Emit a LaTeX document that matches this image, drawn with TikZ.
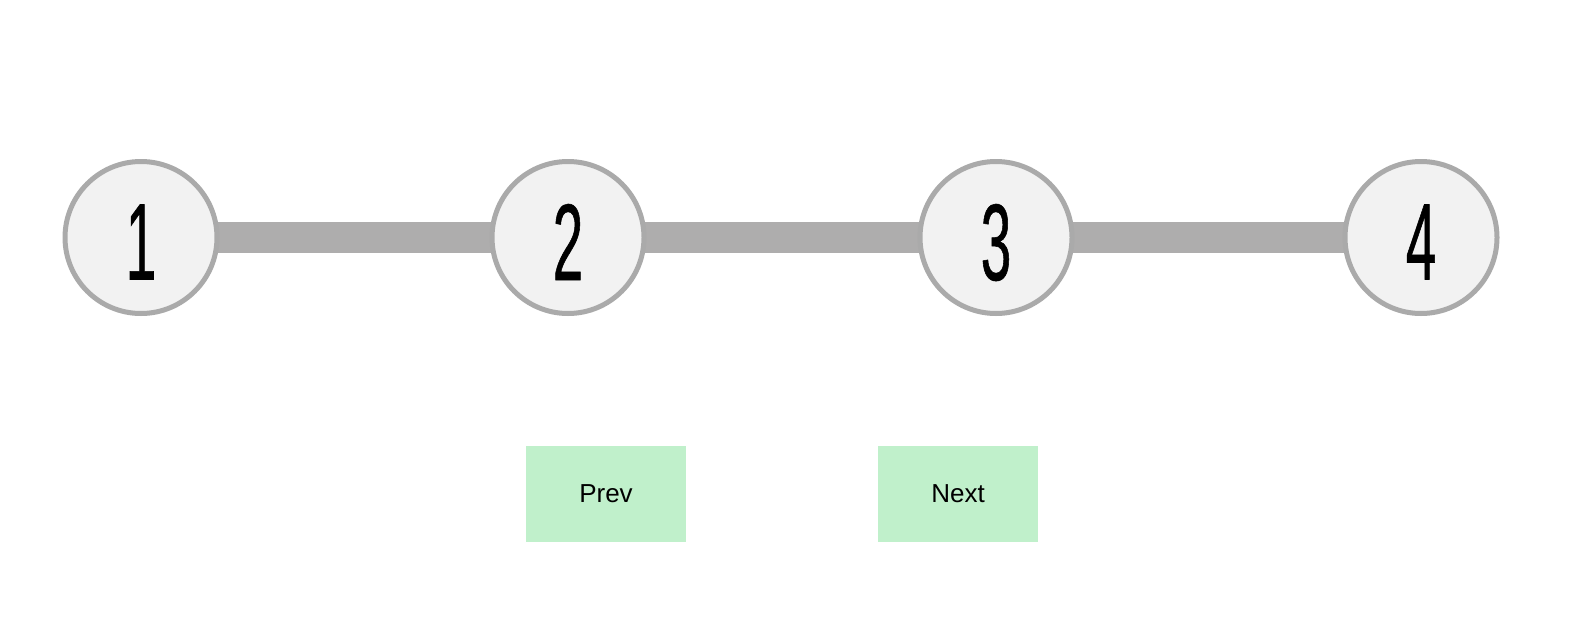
\documentclass[tikz,border=0pt]{standalone}
\usepackage{fontspec}
\setmainfont{Liberation Sans}
\newfontfamily\digitfont[FakeStretch=0.5,FakeBold=0.5]{Liberation Sans}
\newcommand{\stepdigit}[1]{\raisebox{-4.5pt}[\height][0pt]{#1}}
\definecolor{ringgray}{HTML}{AAAAAA}
\definecolor{circfill}{HTML}{F2F2F2}
\definecolor{bargray}{HTML}{AEADAD}
\definecolor{btngreen}{HTML}{C0F0CB}
\begin{document}
\begin{tikzpicture}[x=1pt,y=-1pt,
  stepcircle/.style={circle,draw=ringgray,line width=5pt,fill=circfill,minimum size=152pt,inner sep=0pt,font=\digitfont\fontsize{109}{109}\selectfont},
  barline/.style={draw=bargray,line width=31pt},
  btn/.style={rectangle,fill=btngreen,minimum width=160pt,minimum height=96pt,inner sep=0pt,font=\fontsize{26}{26}\selectfont}]
\fill[white] (0,0) rectangle (1590,626);
\useasboundingbox (0,0) rectangle (1590,626);
\coordinate (c1) at (141,237.5);
\coordinate (c2) at (568,237.5);
\coordinate (c3) at (996,237.5);
\coordinate (c4) at (1421,237.5);
\path[barline] (c1) -- (c2);
\path[barline] (c2) -- (c3);
\path[barline] (c3) -- (c4);
\node[stepcircle] (s1) at (c1) {\stepdigit{1}};
\node[stepcircle] (s2) at (c2) {\stepdigit{2}};
\node[stepcircle] (s3) at (c3) {\stepdigit{3}};
\node[stepcircle] (s4) at (c4) {\stepdigit{4}};
\node[btn] (prev) at (606,494) {Prev};
\node[btn] (next) at (958,494) {Next};
\end{tikzpicture}
\end{document}
